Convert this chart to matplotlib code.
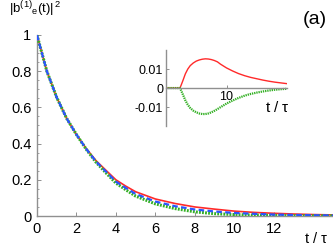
import matplotlib
matplotlib.use('Agg')
import matplotlib.pyplot as plt
from matplotlib.ticker import MultipleLocator

plt.rcParams['font.family'] = ['Liberation Sans', 'DejaVu Sans']
plt.rcParams['mathtext.fontset'] = 'custom'
plt.rcParams['mathtext.rm'] = 'Liberation Sans'
plt.rcParams['mathtext.it'] = 'Liberation Sans:italic'

# main panel: population of the excited state
t = [0, 0.5, 1, 1.5, 2, 2.5, 3, 3.5, 4, 4.5, 5, 6, 7, 8, 9, 10, 11, 12, 13, 14, 15]
p_red = [1.0, 0.80, 0.655, 0.54, 0.45, 0.372, 0.305, 0.252, 0.20, 0.165, 0.134,
         0.094, 0.069, 0.050, 0.038, 0.027, 0.020, 0.015, 0.011, 0.008, 0.006]
p_blue = [1.0, 0.80, 0.655, 0.54, 0.45, 0.370, 0.300, 0.245, 0.19, 0.155, 0.122,
          0.080, 0.054, 0.036, 0.025, 0.017, 0.012, 0.008, 0.006, 0.004, 0.003]
p_green = [1.0, 0.80, 0.655, 0.54, 0.45, 0.368, 0.296, 0.238, 0.182, 0.145, 0.110,
           0.067, 0.041, 0.023, 0.013, 0.008, 0.005, 0.003, 0.002, 0.001, 0.001]

# inset: deviation from the dashed curve
t_in = [0, 1, 2, 2.3, 2.5, 2.8, 3.2, 3.6, 4, 4.5, 5, 5.5, 6, 6.5, 7, 7.5, 8, 8.5, 9,
        10, 11, 12, 13, 14, 15, 16, 17, 18, 19, 20]
d_red = [0, 0, 0, 0, 0.0015, 0.004, 0.0075, 0.0100, 0.0118, 0.0132, 0.0142, 0.0148,
         0.0152, 0.0154, 0.0153, 0.0150, 0.0145, 0.0138, 0.0126, 0.0106, 0.0090,
         0.0076, 0.0065, 0.0056, 0.0049, 0.0042, 0.0036, 0.0031, 0.0027, 0.0023]
d_green = [0, 0, 0, 0, -0.0013, -0.0035, -0.0065, -0.0088, -0.0105, -0.0119, -0.0128,
           -0.0134, -0.0137, -0.0137, -0.0134, -0.0128, -0.0120, -0.0111, -0.0101,
           -0.0082, -0.0066, -0.0052, -0.0040, -0.0031, -0.0024, -0.0018, -0.0013,
           -0.0009, -0.0006, -0.0004]

RED = '#ff2a2a'
BLUE = '#2a55ff'
GREEN = '#33b024'
GRAY = '#909090'

fig = plt.figure(figsize=(3.33, 2.48), dpi=100)
ax = fig.add_axes([0.111, 0.129, 0.889, 0.73])

ax.plot(t, p_red, color=RED, lw=1.2, zorder=2)
ax.plot(t, p_green, color=GREEN, lw=2.2, ls=(0, (0.6, 0.4)), zorder=3)
ax.plot(t, p_blue, color=BLUE, lw=1.6, ls=(0, (2.5, 1.5)), zorder=4)

ax.set_xlim(0, 15)
ax.set_ylim(0, 1.0)
ax.yaxis.set_minor_locator(MultipleLocator(0.05))
ax.set_xticks([0, 2, 4, 6, 8, 10, 12])
ax.set_yticks([0, 0.2, 0.4, 0.6, 0.8, 1.0])
ax.set_yticklabels(['0', '0.2', '0.4', '0.6', '0.8', '1'])
for s in ['top', 'right']:
    ax.spines[s].set_visible(False)
for s in ['left', 'bottom']:
    ax.spines[s].set_color(GRAY)
    ax.spines[s].set_linewidth(1.0)
ax.tick_params(direction='in', length=3, width=0.7, color=GRAY, labelsize=10.5, pad=4)
ax.tick_params(which='minor', direction='in', length=1.5, width=0.6, color=GRAY)

fig.text(0.027, 0.962, r'$\mathregular{|b^{(1)}{}_{e}(t)|^{\,2}}$', fontsize=9.5, ha='left', va='center')
fig.text(0.946, 0.923, '(a)', fontsize=14, ha='center', va='center')
fig.text(0.95, 0.04, r't / $\mathregular{\tau}$', fontsize=10.5, ha='center', va='center')

# inset
axi = fig.add_axes([0.4985, 0.492, 0.3635, 0.306])
axi.plot(t_in, d_red, color=RED, lw=1.0)
axi.plot(t_in, d_green, color=GREEN, lw=1.6, ls=(0, (0.6, 0.4)))
axi.set_xlim(0, 20)
axi.set_ylim(-0.02, 0.02)
axi.set_xticks([10])
axi.set_yticks([-0.01, 0, 0.01])
axi.set_yticklabels(['-0.01', '0', '0.01'])
axi.patch.set_alpha(0)
for s in ['top', 'right']:
    axi.spines[s].set_visible(False)
axi.spines['bottom'].set_position(('data', 0))
for s in ['left', 'bottom']:
    axi.spines[s].set_color(GRAY)
    axi.spines[s].set_linewidth(1.0)
axi.tick_params(direction='in', length=2.5, width=0.7, color=GRAY, labelsize=9, pad=2)
axi.text(0.92, 0.24, r't / $\mathregular{\tau}$', transform=axi.transAxes,
         fontsize=11, ha='center', va='center')

fig.savefig('out.png', dpi=100)
